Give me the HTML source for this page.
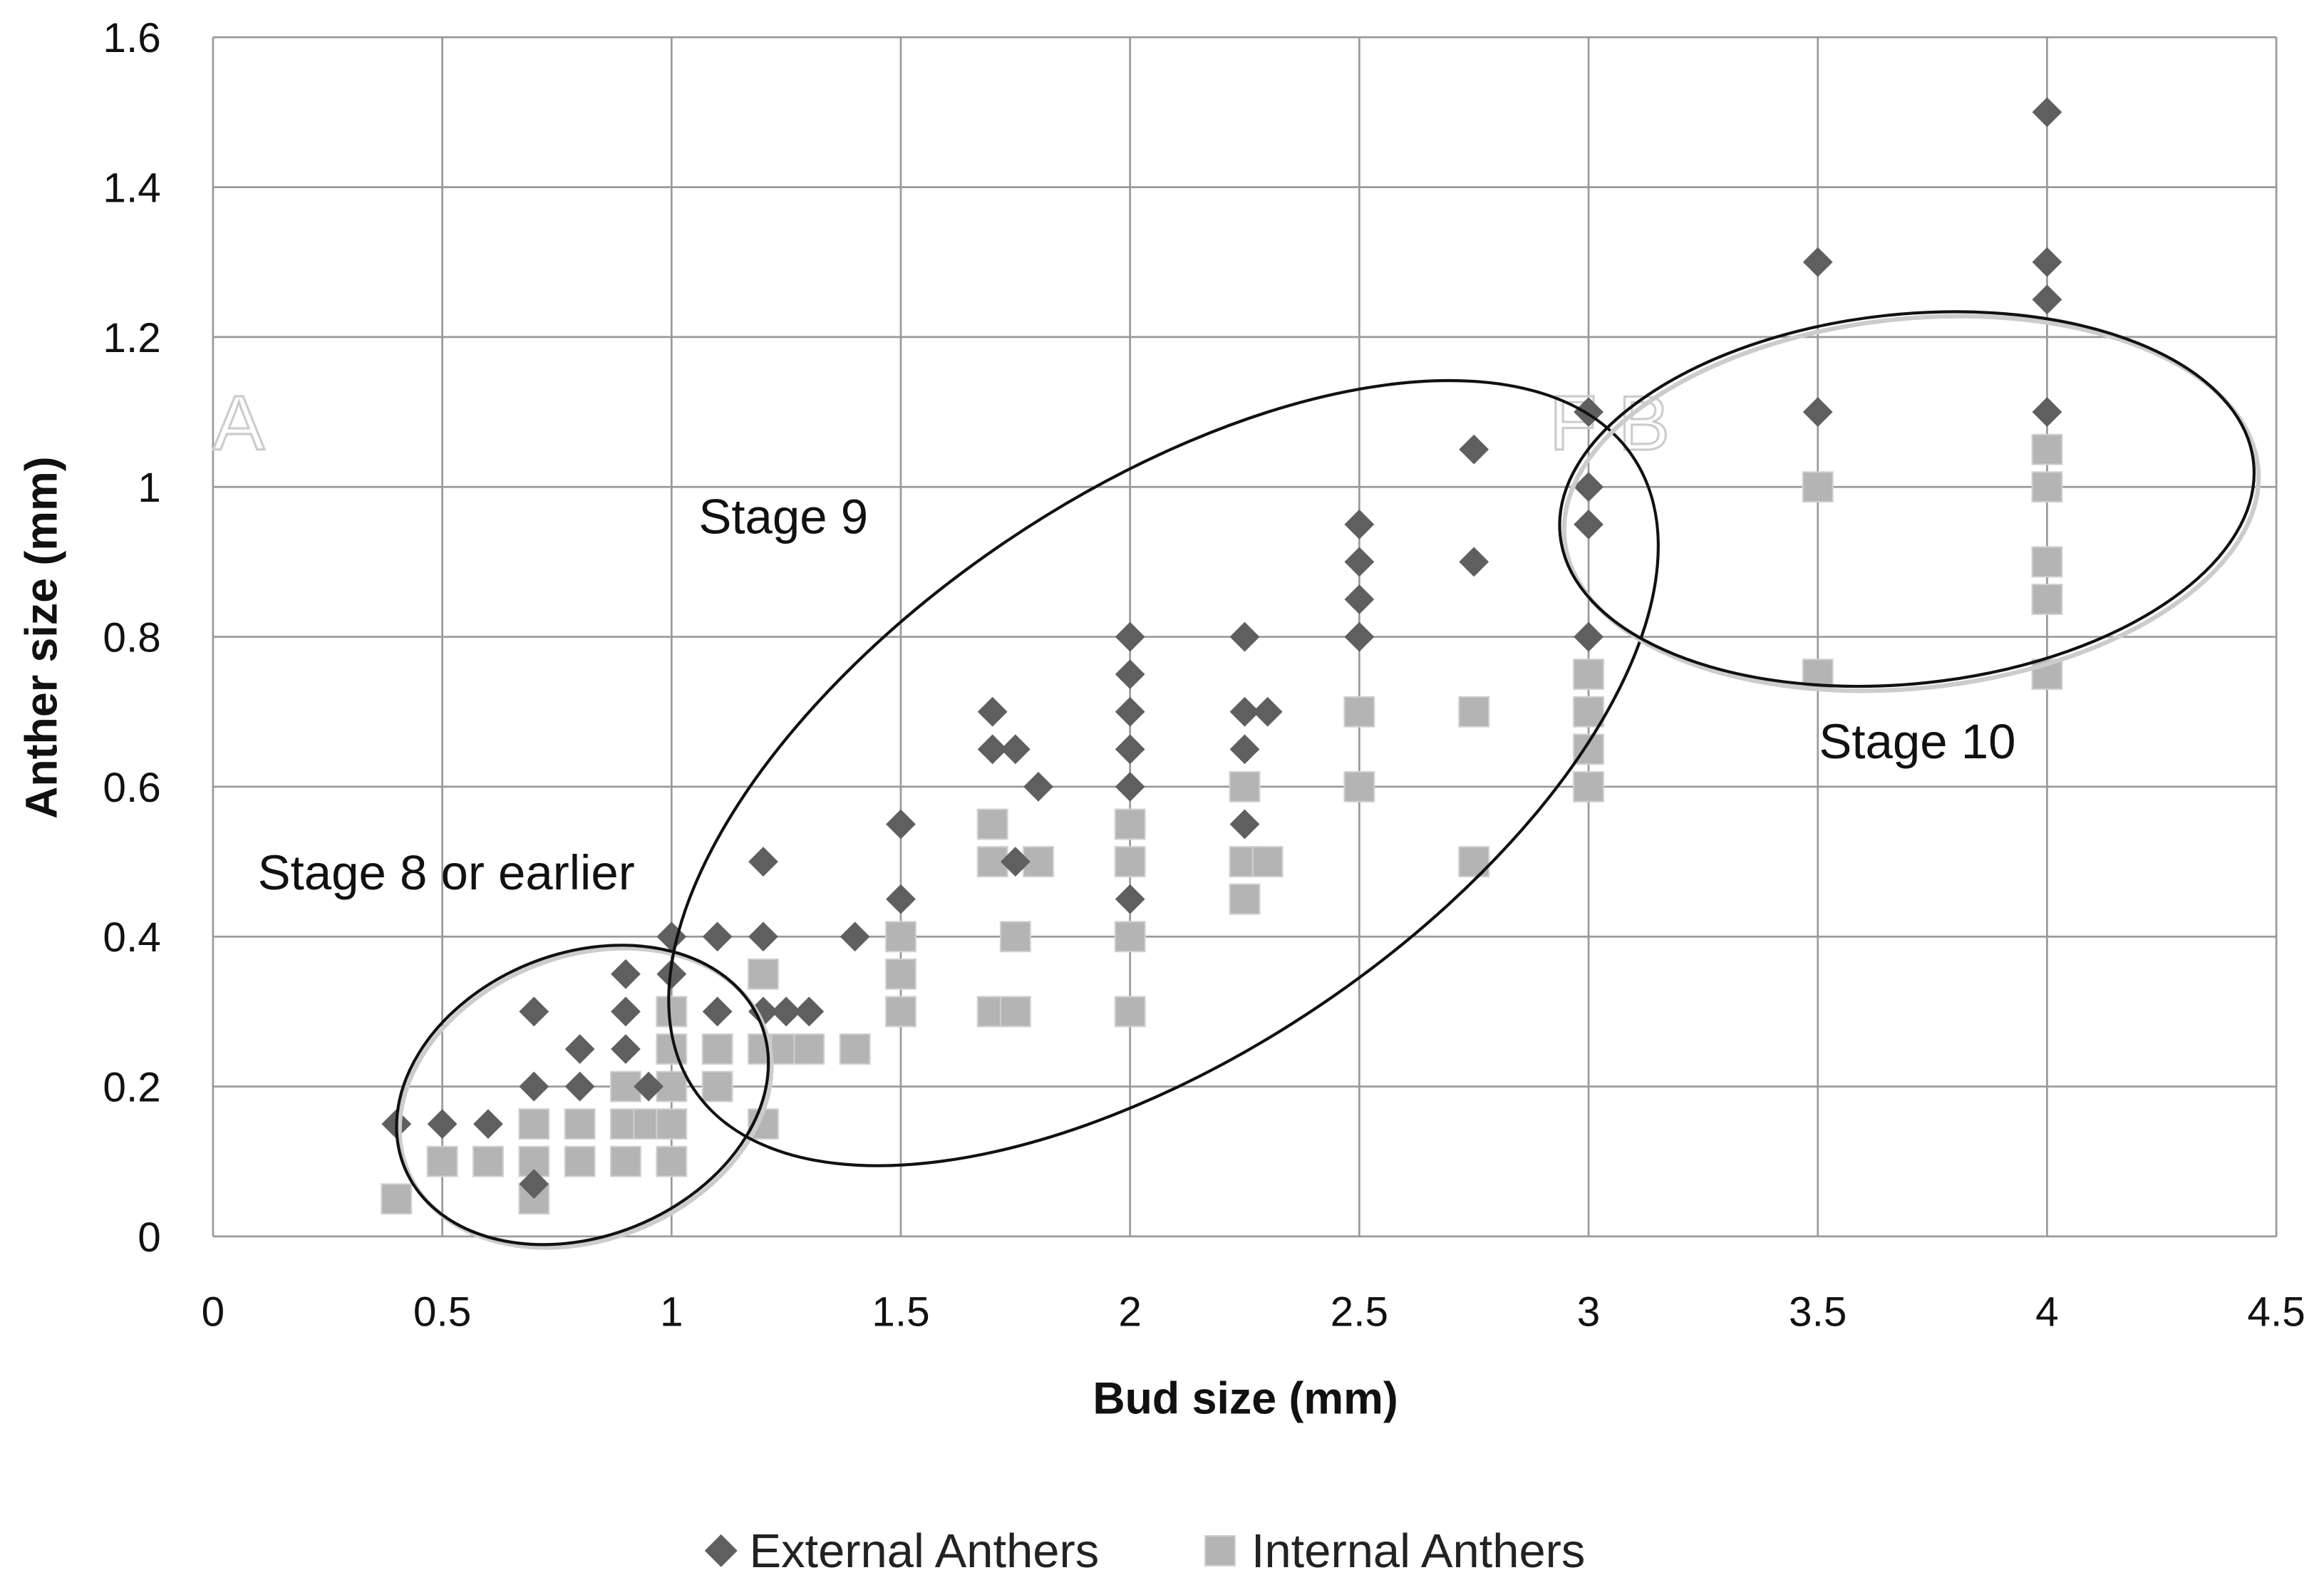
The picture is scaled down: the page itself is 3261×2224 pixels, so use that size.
<!DOCTYPE html>
<html><head><meta charset="utf-8"><style>
html,body{margin:0;padding:0;background:#fff;}
svg{display:block;font-family:"Liberation Sans","DejaVu Sans",sans-serif;}
</style></head><body>
<svg id="chart" width="3261" height="2224" viewBox="0 0 1560 1064" preserveAspectRatio="none" xmlns="http://www.w3.org/2000/svg">
<rect width="1560" height="1064" fill="#fff"/>
<g id="grid"></g>
<g id="ticks"></g>
<text x="143" y="302" font-size="52" fill="#fff" stroke="#ccc" stroke-width="1.5">A</text>
<text x="1040" y="302" font-size="52" fill="#fff" stroke="#ccc" stroke-width="1.5">F  B</text>
<g id="ints"></g>
<g id="exts"></g>
<g fill="none">
<ellipse cx="393" cy="737" rx="129" ry="95" transform="rotate(-22 393 737)" stroke="#ccc" stroke-width="3"/>
<ellipse cx="391" cy="735" rx="129" ry="95" transform="rotate(-22 391 735)" stroke="#111" stroke-width="2"/>
<ellipse cx="781" cy="519" rx="380" ry="188" transform="rotate(-34 781 519)" stroke="#111" stroke-width="2"/>
<ellipse cx="1283" cy="338" rx="234" ry="124" transform="rotate(-6 1283 338)" stroke="#ccc" stroke-width="3"/>
<ellipse cx="1280" cy="335" rx="234" ry="124" transform="rotate(-6 1280 335)" stroke="#111" stroke-width="2"/>
</g>
<text x="469" y="358" font-size="33" fill="#111">Stage 9</text>
<text x="173" y="597" font-size="33" fill="#111">Stage 8 or earlier</text>
<text x="1221" y="509" font-size="33" fill="#111">Stage 10</text>
<text x="836" y="949" font-size="30" font-weight="bold" text-anchor="middle" fill="#111">Bud size (mm)</text>
<text transform="translate(38 428) rotate(-90)" font-size="30" font-weight="bold" text-anchor="middle" fill="#111">Anther size (mm)</text>
<g>
<path d="M484 1030 L495 1041 L484 1052 L473 1041Z" fill="#5f5f5f"/>
<text x="503" y="1052" font-size="32" fill="#222">External Anthers</text>
<rect x="809" y="1031" width="20" height="20" fill="#b4b4b4" stroke="#d0d0d0"/>
<text x="840" y="1052" font-size="32" fill="#222">Internal Anthers</text>
</g>
</svg>
<script>
const xTicks=[0,0.5,1,1.5,2,2.5,3,3.5,4,4.5];
const yTicks=[0,0.2,0.4,0.6,0.8,1,1.2,1.4,1.6];
const extX=[0.4,0.5,0.6,0.7,0.7,0.7,0.8,0.8,0.9,0.9,0.9,0.95,1,1,1.1,1.1,1.2,1.2,1.2,1.25,1.3,1.4,1.5,1.5,1.7,1.7,1.75,1.75,1.8,2,2,2,2,2,2,2.25,2.25,2.25,2.25,2.3,2.5,2.5,2.5,2.5,2.75,2.75,3,3,3,3,3.5,3.5,4,4,4,4];
const extY=[0.15,0.15,0.15,0.3,0.2,0.07,0.25,0.2,0.35,0.3,0.25,0.2,0.4,0.35,0.4,0.3,0.5,0.4,0.3,0.3,0.3,0.4,0.55,0.45,0.7,0.65,0.65,0.5,0.6,0.8,0.75,0.7,0.65,0.6,0.45,0.8,0.7,0.65,0.55,0.7,0.95,0.9,0.85,0.8,1.05,0.9,1.1,1.0,0.95,0.8,1.3,1.1,1.5,1.3,1.25,1.1];
const intX=[0.4,0.5,0.6,0.7,0.7,0.7,0.8,0.8,0.9,0.9,0.9,0.95,1,1,1,1,1,1.1,1.1,1.2,1.2,1.2,1.25,1.3,1.4,1.5,1.5,1.5,1.7,1.7,1.7,1.75,1.75,1.8,2,2,2,2,2.25,2.25,2.25,2.3,2.5,2.5,2.75,2.75,3,3,3,3,3.5,3.5,4,4,4,4,4];
const intY=[0.05,0.1,0.1,0.15,0.1,0.05,0.15,0.1,0.2,0.15,0.1,0.15,0.3,0.25,0.2,0.15,0.1,0.25,0.2,0.35,0.25,0.15,0.25,0.25,0.25,0.4,0.35,0.3,0.55,0.5,0.3,0.4,0.3,0.5,0.55,0.5,0.4,0.3,0.6,0.5,0.45,0.5,0.7,0.6,0.7,0.5,0.75,0.7,0.65,0.6,1.0,0.75,1.05,1.0,0.9,0.85,0.75];
const NS='http://www.w3.org/2000/svg';
const X0=143,X1=1528,Y0=830,Y1=25;
function sx(v){return X0+(v/4.5)*(X1-X0);}
function sy(v){return Y0-(v/1.6)*(Y0-Y1);}
function mk(t,a,p){const e=document.createElementNS(NS,t);for(const k in a)e.setAttribute(k,a[k]);p.appendChild(e);return e;}
const grid=document.getElementById('grid'),ticks=document.getElementById('ticks');
xTicks.forEach(v=>{
 const l=mk('line',{x1:sx(v),x2:sx(v),y1:Y1,y2:Y0,stroke:'#9a9a9a','stroke-width':1.3},grid);
 
 
 const t=mk('text',{x:sx(v),y:890,'font-size':28,'text-anchor':'middle',fill:'#111'},ticks);
 t.textContent=String(v);
 
 
});
yTicks.forEach(v=>{
 const l=mk('line',{x1:X0,x2:X1,y1:sy(v),y2:sy(v),stroke:'#9a9a9a','stroke-width':1.3},grid);
 
 
 const t=mk('text',{x:108,y:sy(v)+10,'font-size':28,'text-anchor':'end',fill:'#111'},ticks);
 t.textContent=String(v);
 
 
});
const ints=document.getElementById('ints'),exts=document.getElementById('exts');
intX.forEach((v,i)=>{
 const r=mk('rect',{x:sx(v)-10,y:sy(intY[i])-10,width:20,height:20,fill:'#b4b4b4',stroke:'#d0d0d0','stroke-width':1},ints);
 
 
});
extX.forEach((v,i)=>{
 const x=sx(v),y=sy(extY[i]);
 const p=mk('path',{d:`M${x} ${y-10}L${x+10} ${y}L${x} ${y+10}L${x-10} ${y}Z`,fill:'#5f5f5f'},exts);
 
 
});
</script>
</body></html>
